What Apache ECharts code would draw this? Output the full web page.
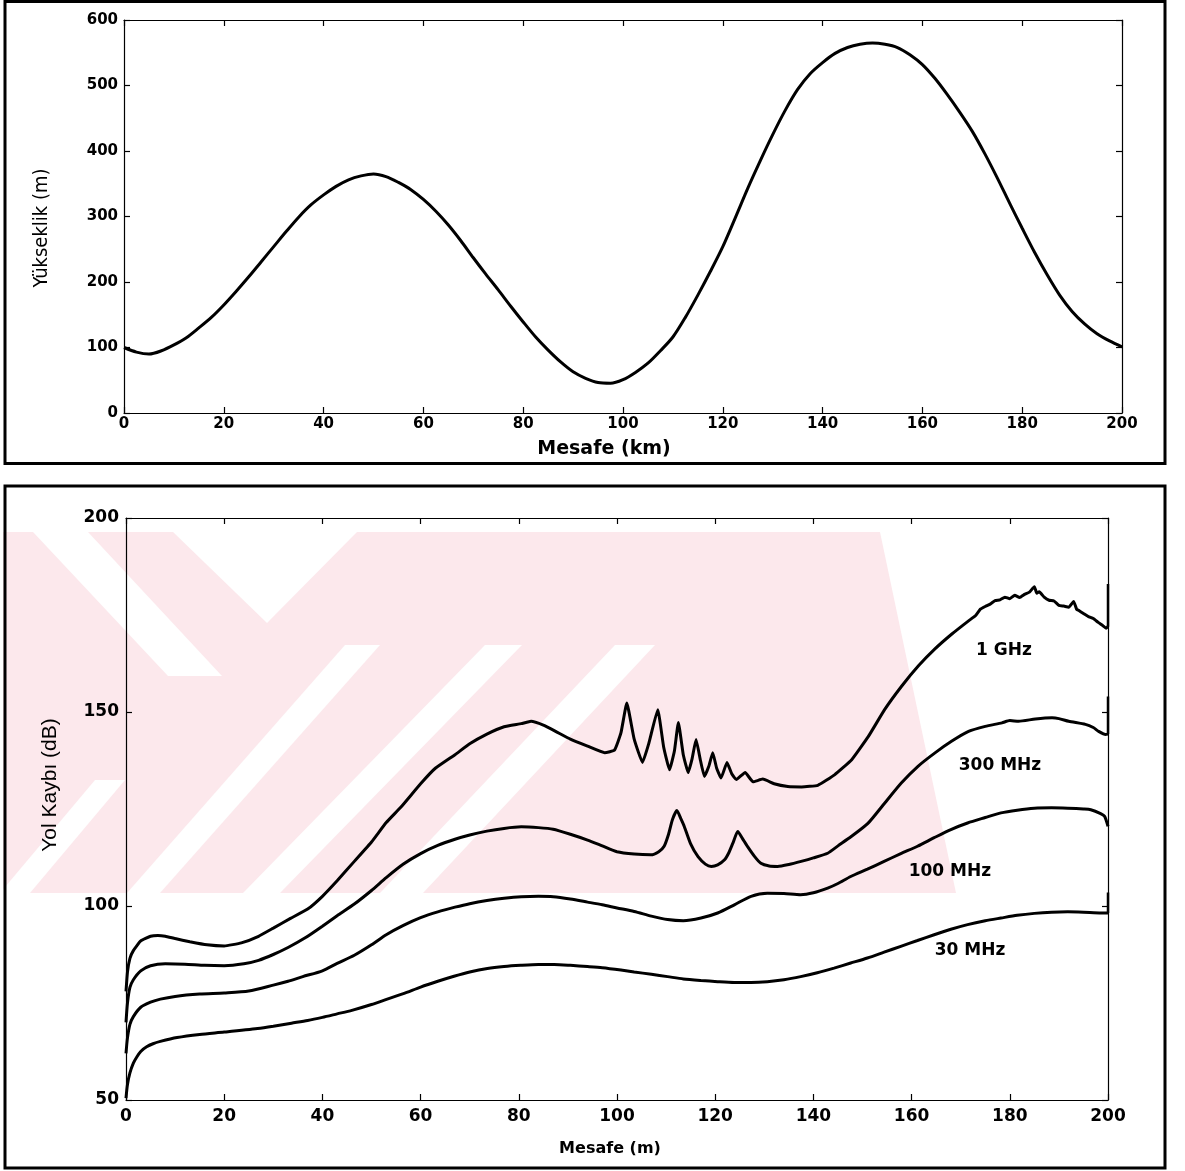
<!DOCTYPE html>
<html>
<head>
<meta charset="utf-8">
<script src="https://cdn.jsdelivr.net/npm/echarts@6/dist/echarts.min.js"></script>
<style>
html,body{margin:0;padding:0;background:#fff;}
#c{width:1185px;height:1171px;}
</style>
</head>
<body>
<div id="c"></div>
<script>
// ---------- Top chart: terrain profile ----------
const terrainKm = [0, 2.5, 5, 7.5, 10, 12.5, 15, 17.5, 20, 22.5, 25, 27.5, 30, 32.5, 35, 37.5, 40, 42.5, 45, 47.5, 50, 52.5, 55, 57.5, 60, 62.5, 65, 67.5, 70, 72.5, 75, 77.5, 80, 82.5, 85, 87.5, 90, 92.5, 95, 97.5, 100, 102.5, 105, 107.5, 110, 112.5, 115, 117.5, 120, 122.5, 125, 127.5, 130, 132.5, 135, 137.5, 140, 142.5, 145, 147.5, 150, 152.5, 155, 157.5, 160, 162.5, 165, 167.5, 170, 172.5, 175, 177.5, 180, 182.5, 185, 187.5, 190, 192.5, 195, 197.5, 200];
const terrainH  = [100, 93, 90, 95, 104, 115, 130, 146, 165, 186, 208, 231, 254, 277, 299, 318, 333, 346, 356, 362, 365, 361, 352, 341, 326, 308, 287, 263, 237, 212, 188, 163, 139, 116, 96, 78, 63, 53, 46.5, 45.5, 51, 62, 76, 95, 116, 146, 180, 216, 254, 298, 343, 385, 425, 462, 494, 518, 535, 549, 558, 563, 565, 563, 558, 547, 532, 511, 486, 459, 430, 396, 359, 320, 282, 245, 211, 180, 155, 136, 121, 110, 101];

// ---------- Bottom chart: path loss ----------
const dist1G = [0, 0.3, 0.8, 1.5, 3, 5, 6.5, 8, 10, 13, 16.5, 20, 23.5, 27, 30, 33.5, 37, 40, 43, 46.5, 50, 53, 56, 60, 63, 67, 70, 73.5, 77, 80.5, 82.5, 85, 87.5, 90.5, 94, 97.5, 99.5, 100.8, 102, 103.5, 105.2, 106.5, 108.3, 109.5, 110.7, 111.7, 112.5, 113.5, 114.5, 115.3, 116.1, 117, 117.8, 118.7, 119.5, 120.3, 121.2, 122.4, 123.4, 124.3, 126.1, 127.7, 129.7, 132, 134.8, 137.6, 140.9, 144.3, 147.8, 151.2, 154.5, 158, 161.4, 164.7, 168.2, 171.6, 173, 174, 175, 176, 177, 178, 179, 180, 181, 182, 183, 184, 185, 185.5, 186, 187, 188, 189, 190, 191, 192, 193, 193.6, 194, 195, 196, 197, 198, 199, 199.6, 200];
const loss1G = [78, 83, 86.5, 88.5, 91, 92.2, 92.4, 92.2, 91.6, 90.8, 90, 89.7, 90.5, 92.2, 94.3, 96.8, 99.2, 102.5, 106.5, 111.5, 116.5, 121.5, 125.5, 131.5, 135.5, 139, 141.8, 144.3, 146.2, 147, 147.6, 146.6, 145, 143, 141.2, 139.5, 140.2, 144.6, 152.3, 143, 137, 142, 150.6, 141, 135.1, 140, 147.3, 139, 134.4, 138, 142.9, 137.5, 133.4, 136, 139.5, 135.5, 133, 137, 134, 132.6, 134.4, 132, 132.7, 131.5, 130.8, 130.7, 131.1, 133.8, 137.7, 143.7, 150.6, 156.7, 161.9, 166.2, 170.1, 173.5, 174.8, 176.5, 177.2, 177.8, 178.7, 178.9, 179.6, 179.2, 180.1, 179.5, 180.3, 180.9, 182.3, 180.6, 181, 179.6, 178.8, 178.6, 177.5, 177.3, 177, 178.5, 176.5, 176.2, 175.4, 174.6, 174.1, 173.1, 172.2, 171.6, 172];

const dist300M = [0, 0.3, 0.8, 1.5, 3, 5, 8, 12, 16, 20, 24, 27, 30, 33, 36.5, 40, 43, 46.5, 50, 53, 56.5, 60, 63.5, 67, 70, 73.5, 77, 80.5, 84, 87, 90.5, 94, 97, 100, 103.5, 106.9, 108.5, 109.6, 110.5, 111.3, 112.2, 113, 113.7, 115, 116.5, 118, 119.2, 120.5, 121.9, 122.8, 123.6, 124.6, 125.5, 126.6, 128, 129.3, 131, 132.7, 135, 137.5, 140, 142.9, 145, 147.7, 151.1, 154.5, 157.9, 161.3, 164.7, 168.2, 171.6, 175, 178.4, 180, 181.8, 185.2, 188.6, 190, 192, 195.4, 197, 198.1, 199.5, 200];
const loss300M = [70, 75, 79, 81, 83.3, 84.6, 85.1, 85, 84.7, 84.6, 85.1, 86, 87.5, 89.3, 91.8, 94.8, 97.5, 100.5, 104, 107.3, 110.8, 113.5, 115.6, 117.2, 118.3, 119.3, 120, 120.4, 120.2, 119.8, 118.5, 117, 115.5, 114, 113.4, 113.2, 114, 115.4, 118.5, 122.3, 124.6, 122.5, 120.5, 116, 112.7, 110.8, 110.2, 110.6, 111.9, 113.8, 116.2, 119.2, 117.5, 115.3, 112.8, 111, 110.3, 110.2, 110.7, 111.5, 112.4, 113.6, 115.5, 117.9, 121.3, 126.5, 131.7, 136, 139.4, 142.5, 145, 146.3, 147.2, 147.8, 147.6, 148.2, 148.5, 148.3, 147.6, 146.8, 146, 145, 144.2, 144.3];

const dist100M = [0, 0.3, 0.8, 1.5, 3, 5, 7, 10, 15, 20, 25, 30, 33, 36, 40, 43, 46.5, 50, 53, 56.5, 60, 63.5, 67, 70, 73.5, 77, 80.5, 84, 87, 90.5, 94, 97, 100, 103.5, 107, 110.3, 113.5, 117.1, 120.5, 123.9, 127.3, 130.6, 134, 137.4, 140, 142.9, 145, 147.6, 151, 154.4, 157.8, 161.2, 164.6, 168, 171.4, 175, 178.2, 181.5, 185, 188.5, 191.8, 195, 196.5, 198.5, 199.3, 200];
const loss100M = [62, 66, 69.5, 71.5, 73.9, 75.2, 76, 76.7, 77.3, 77.6, 78.1, 79.6, 80.6, 81.8, 83.3, 85.2, 87.3, 90, 92.6, 95, 97, 98.5, 99.7, 100.6, 101.4, 102, 102.4, 102.5, 102.4, 101.8, 101, 100.3, 99.5, 98.6, 97.4, 96.5, 96.2, 96.9, 98.2, 100.3, 102.5, 103.3, 103.2, 102.9, 103.4, 104.6, 105.8, 107.6, 109.5, 111.5, 113.5, 115.4, 117.6, 119.7, 121.4, 122.8, 124, 124.7, 125.2, 125.3, 125.2, 125, 124.8, 123.8, 123.1, 120.5];

const dist30M = [0, 0.3, 0.8, 1.5, 2.2, 3, 4.2, 5.5, 7, 10.4, 15, 20, 26.8, 30, 33.7, 37, 40, 43, 46, 50, 53.2, 56.5, 60, 63.5, 66.8, 70, 73.6, 77, 80.4, 84, 87.2, 90.5, 94, 97, 100.8, 103.5, 107, 110.3, 113.5, 117.1, 120.5, 123.9, 127.3, 130.6, 134, 137.4, 140.8, 144.2, 147.6, 151, 154.4, 157.8, 161.2, 164.6, 168, 171.4, 175, 178.2, 181.5, 185, 188.5, 191.8, 195, 198.6, 200];
const loss30M = [50.5, 54, 57, 59.5, 61.1, 62.5, 63.7, 64.5, 65.1, 66.1, 66.9, 67.5, 68.4, 69, 69.8, 70.5, 71.3, 72.2, 73.1, 74.6, 76, 77.4, 79.1, 80.6, 81.9, 83, 83.9, 84.4, 84.7, 84.9, 84.9, 84.7, 84.4, 84.1, 83.5, 83, 82.4, 81.8, 81.2, 80.8, 80.5, 80.3, 80.3, 80.5, 81, 81.8, 82.8, 84, 85.3, 86.6, 88.1, 89.6, 91.1, 92.6, 94, 95.2, 96.2, 96.9, 97.6, 98.1, 98.4, 98.5, 98.4, 98.2, 98.2];

// vertical jump of each curve at the last distance (end value -> top value)
const endJump = [[172, 183], [144.3, 154], [120.5, 120.5], [98.2, 103.5]];

// curve labels (text, anchored in data coordinates)
const curveNames = ['1 GHz', '300 MHz', '100 MHz', '30 MHz'];
const curveLabelAt = [[178.8, 165.9], [178, 136.2], [167.8, 109], [171.9, 88.4]];

// tick settings
const topXTicks = 20, topYTicks = 100, botXTicks = 20, botYTicks = 50;

function zip(xs, ys){ return xs.map((x, i) => [x, ys[i]]); }

const wideFont = '"DejaVu Sans", sans-serif';
const narrowFont = '"Liberation Sans Narrow", "DejaVu Sans Condensed", sans-serif';
const armFont = '"Liberation Sans", Arial, sans-serif';
const pink = '#fce8ec';

function ax(extra){
  return Object.assign({
    axisLine: {show: true, onZero: false, lineStyle: {color: '#000', width: 1.2}},
    axisTick: {show: true, inside: true, length: 6, lineStyle: {color: '#000', width: 1.2}},
    splitLine: {show: false}
  }, extra);
}

const lossX = [dist1G, dist300M, dist100M, dist30M];
const lossY = [loss1G, loss300M, loss100M, loss30M];
const lossSmooth = [0.12, 0.2, 0.25, 0.25];

const chart = echarts.init(document.getElementById('c'), null, {renderer: 'canvas'});

// approximate background watermark (light pink stripes of the scanned page)
const watermark = [
  {type: 'polygon', z: -10, shape: {points: [[3, 532], [880, 532], [956, 893], [3, 893]]}, style: {fill: pink}},
  {type: 'polygon', z: -9, shape: {points: [[33, 532], [88, 532], [222, 676], [168, 676]]}, style: {fill: '#fff'}},
  {type: 'polygon', z: -9, shape: {points: [[173, 532], [357, 532], [267, 623]]}, style: {fill: '#fff'}},
  {type: 'polygon', z: -9, shape: {points: [[0, 893], [30, 893], [125, 780], [95, 780]]}, style: {fill: '#fff'}},
  {type: 'polygon', z: -9, shape: {points: [[127, 893], [160, 893], [380, 645], [345, 645]]}, style: {fill: '#fff'}},
  {type: 'polygon', z: -9, shape: {points: [[243, 893], [280, 893], [522, 645], [485, 645]]}, style: {fill: '#fff'}},
  {type: 'polygon', z: -9, shape: {points: [[380, 893], [423, 893], [655, 645], [615, 645]]}, style: {fill: '#fff'}}
];

const option = {
  backgroundColor: '#fff',
  animation: false,
  grid: [
    {left: 124, right: 63, top: 20, height: 393},
    {left: 126, right: 77, top: 518, height: 582}
  ],
  xAxis: [
    ax({gridIndex: 0, type: 'value', min: 0, max: 200, interval: topXTicks, position: 'bottom',
        axisLabel: {color: '#000', fontFamily: wideFont, fontWeight: 'bold', fontSize: 15, margin: 4}}),
    ax({gridIndex: 0, type: 'value', min: 0, max: 200, interval: topXTicks, position: 'top', axisLabel: {show: false}}),
    ax({gridIndex: 1, type: 'value', min: 0, max: 200, interval: botXTicks, position: 'bottom',
        axisLabel: {color: '#000', fontFamily: wideFont, fontWeight: 'bold', fontSize: 17, margin: 8}}),
    ax({gridIndex: 1, type: 'value', min: 0, max: 200, interval: botXTicks, position: 'top', axisLabel: {show: false}})
  ],
  yAxis: [
    ax({gridIndex: 0, type: 'value', min: 0, max: 600, interval: topYTicks, position: 'left',
        axisLabel: {color: '#000', fontFamily: wideFont, fontWeight: 'bold', fontSize: 15, margin: 6}}),
    ax({gridIndex: 0, type: 'value', min: 0, max: 600, interval: topYTicks, position: 'right', axisLabel: {show: false}}),
    ax({gridIndex: 1, type: 'value', min: 50, max: 200, interval: botYTicks, position: 'left',
        axisLabel: {color: '#000', fontFamily: wideFont, fontWeight: 'bold', fontSize: 17, margin: 7}}),
    ax({gridIndex: 1, type: 'value', min: 50, max: 200, interval: botYTicks, position: 'right', axisLabel: {show: false}})
  ],
  graphic: watermark.concat([
    {type: 'rect', shape: {x: 5, y: 1.5, width: 1160, height: 462}, style: {fill: 'none', stroke: '#000', lineWidth: 3}},
    {type: 'rect', shape: {x: 5, y: 486, width: 1160, height: 682}, style: {fill: 'none', stroke: '#000', lineWidth: 3}},
    {type: 'text', x: 604, y: 449, style: {text: 'Mesafe (km)', font: 'bold 19px ' + wideFont, fill: '#000', textAlign: 'center', textVerticalAlign: 'middle'}},
    {type: 'text', x: 42, y: 228, rotation: Math.PI / 2, style: {text: 'Yükseklik (m)', font: '20px ' + narrowFont, fill: '#000', textAlign: 'center', textVerticalAlign: 'middle'}},
    {type: 'text', x: 610, y: 1149, style: {text: 'Mesafe (m)', font: 'bold 16px ' + wideFont, fill: '#000', textAlign: 'center', textVerticalAlign: 'middle'}},
    {type: 'text', x: 50, y: 785, rotation: Math.PI / 2, style: {text: 'Yol Kaybı (dB)', font: '21px ' + armFont, fill: '#000', textAlign: 'center', textVerticalAlign: 'middle'}}
  ]),
  series: [
    {type: 'line', xAxisIndex: 0, yAxisIndex: 0, data: zip(terrainKm, terrainH), smooth: 0.3,
     showSymbol: false, lineStyle: {color: '#000', width: 3}}
  ].concat(lossX.map((xs, i) => ({
    type: 'line', xAxisIndex: 2, yAxisIndex: 2, data: zip(xs, lossY[i]), smooth: lossSmooth[i],
    showSymbol: false, lineStyle: {color: '#000', width: 3}
  }))).concat(endJump.map((j) => ({
    type: 'line', xAxisIndex: 2, yAxisIndex: 2, data: [[200, j[0]], [200, j[1]]],
    showSymbol: false, lineStyle: {color: '#000', width: 2.5}
  })))
};

chart.setOption(option);

// curve name labels placed at their data coordinates
const labelGraphics = curveNames.map((name, i) => {
  const p = chart.convertToPixel({xAxisIndex: 2, yAxisIndex: 2}, curveLabelAt[i]);
  return {type: 'text', x: p[0], y: p[1], style: {text: name, font: 'bold 17px ' + wideFont, fill: '#000', textAlign: 'center', textVerticalAlign: 'middle'}};
});
chart.setOption({graphic: option.graphic.concat(labelGraphics)});
</script>
</body>
</html>
